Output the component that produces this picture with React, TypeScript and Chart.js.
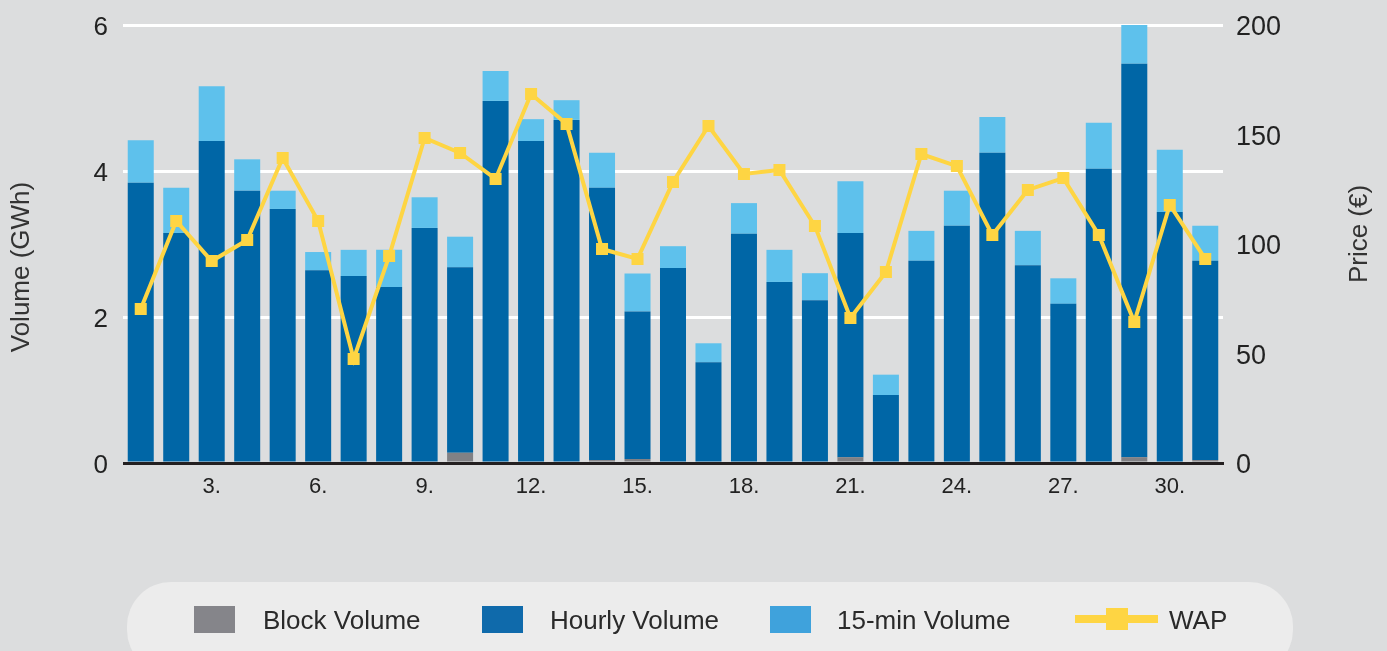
import { useEffect, useRef } from 'react';
import { Chart, registerables } from 'chart.js';

Chart.register(...registerables);

const FONT = '"Liberation Sans", Arial, Helvetica, sans-serif';

const dayLabels = ['1.', '2.', '3.', '4.', '5.', '6.', '7.', '8.', '9.', '10.', '11.', '12.', '13.', '14.', '15.', '16.', '17.', '18.', '19.', '20.', '21.', '22.', '23.', '24.', '25.', '26.', '27.', '28.', '29.', '30.', '31.'];

const blockVolume = [0, 0, 0, 0, 0, 0, 0, 0, 0, 0.14, 0, 0, 0, 0.04, 0.055, 0, 0, 0, 0, 0, 0.08, 0, 0, 0, 0, 0, 0, 0, 0.08, 0, 0.04];

const hourlyVolume = [3.84, 3.15, 4.41, 3.73, 3.48, 2.64, 2.56, 2.41, 3.22, 2.54, 4.96, 4.41, 4.70, 3.73, 2.02, 2.67, 1.38, 3.14, 2.48, 2.23, 3.07, 0.93, 2.77, 3.25, 4.25, 2.71, 2.18, 4.03, 5.39, 3.44, 2.73];

const quarterHourVolume = [0.58, 0.62, 0.75, 0.43, 0.25, 0.25, 0.36, 0.51, 0.42, 0.42, 0.41, 0.30, 0.27, 0.48, 0.52, 0.30, 0.26, 0.42, 0.44, 0.37, 0.71, 0.28, 0.41, 0.48, 0.49, 0.47, 0.35, 0.63, 0.54, 0.85, 0.48];

const wap = [70.3, 110.5, 92.2, 101.8, 139.3, 110.5, 47.5, 94.5, 148.4, 141.6, 129.7, 168.5, 154.8, 97.7, 93.2, 128.3, 153.9, 132.0, 133.8, 108.2, 66.2, 87.2, 141.1, 135.6, 104.1, 124.7, 130.1, 104.1, 64.4, 117.8, 93.2];

const seriesNames = ['Block Volume', 'Hourly Volume', '15-min Volume', 'WAP'];
const axisTitles = ['Volume (GWh)', 'Price (€)'];

const BG = '#dcddde';
const C_BLOCK = '#818185';
const C_HOURLY = '#0066a6';
const C_QUARTER = '#5ec1ec';
const C_WAP = '#fed543';

const bgPlugin = {
  id: 'bgFill',
  beforeDraw(chart: any) {
    const { ctx, width, height } = chart;
    ctx.save();
    ctx.fillStyle = BG;
    ctx.fillRect(0, 0, width, height);
    ctx.restore();
  },
};

const decorPlugin = {
  id: 'decor',
  afterDatasetsDraw(chart: any) {
    const { ctx, chartArea } = chart;
    const y0 = chart.scales.y.getPixelForValue(0);
    ctx.save();
    ctx.fillStyle = '#231f20';
    ctx.fillRect(chartArea.left, y0 - 1, chartArea.right - chartArea.left + 1, 3);
    ctx.restore();
  },
  afterDraw(chart: any) {
    const { ctx } = chart;
    ctx.save();
    ctx.fillStyle = '#333333';
    ctx.font = `26px ${FONT}`;
    ctx.textAlign = 'center';
    ctx.textBaseline = 'middle';
    ctx.save();
    ctx.translate(22, 267);
    ctx.rotate(-Math.PI / 2);
    ctx.fillText(axisTitles[0], 0, 0);
    ctx.restore();
    ctx.save();
    ctx.translate(1360, 234);
    ctx.rotate(-Math.PI / 2);
    ctx.fillText(axisTitles[1], 0, 0);
    ctx.restore();

    ctx.fillStyle = '#ececec';
    ctx.beginPath();
    (ctx as any).roundRect(127, 582, 1166, 92, 44);
    ctx.fill();

    const sw = [
      { x: 194, color: '#85858a', tx: 263 },
      { x: 482, color: '#0f6aab', tx: 550 },
      { x: 770, color: '#3fa2dc', tx: 837 },
    ];
    ctx.font = `26px ${FONT}`;
    ctx.textAlign = 'left';
    ctx.textBaseline = 'alphabetic';
    sw.forEach((s, i) => {
      ctx.fillStyle = s.color;
      ctx.fillRect(s.x, 606, 41, 27);
      ctx.fillStyle = '#2a2a2a';
      ctx.fillText(seriesNames[i], s.tx, 629);
    });
    ctx.fillStyle = C_WAP;
    ctx.fillRect(1075, 615, 83, 8);
    ctx.fillRect(1106, 608, 22, 22);
    ctx.fillStyle = '#2a2a2a';
    ctx.fillText(seriesNames[3], 1169, 629);
    ctx.restore();
  },
};

const zeroPad = (s: any) => {
  s.paddingTop = 0;
  s.paddingBottom = 0;
};

export default function App() {
  const ref = useRef<HTMLCanvasElement | null>(null);

  useEffect(() => {
    document.body.style.margin = '0';
    const chart = new Chart(ref.current as HTMLCanvasElement, {
      type: 'bar',
      data: {
        labels: dayLabels,
        datasets: [
          {
            type: 'line',
            label: seriesNames[3],
            data: wap,
            yAxisID: 'y1',
            borderColor: C_WAP,
            backgroundColor: C_WAP,
            borderWidth: 4,
            pointStyle: 'rect',
            pointRadius: 8.5,
            pointBorderWidth: 0,
            pointBackgroundColor: C_WAP,
            tension: 0,
            order: 0,
          } as any,
          {
            label: seriesNames[0],
            data: blockVolume,
            backgroundColor: C_BLOCK,
            yAxisID: 'y',
            stack: 'vol',
            order: 1,
          },
          {
            label: seriesNames[1],
            data: hourlyVolume,
            backgroundColor: C_HOURLY,
            yAxisID: 'y',
            stack: 'vol',
            order: 1,
          },
          {
            label: seriesNames[2],
            data: quarterHourVolume,
            backgroundColor: C_QUARTER,
            yAxisID: 'y',
            stack: 'vol',
            order: 1,
          },
        ],
      },
      options: {
        responsive: false,
        animation: false,
        events: [],
        datasets: {
          bar: { categoryPercentage: 1, barPercentage: 0.733, borderWidth: 0 },
        },
        layout: { padding: { top: 25, left: 0, right: 0, bottom: 0 } },
        plugins: {
          legend: { display: false },
          tooltip: { enabled: false },
          title: { display: false },
        },
        scales: {
          x: {
            stacked: true,
            grid: { display: false, drawTicks: false },
            border: { display: false },
            ticks: {
              autoSkip: false,
              maxRotation: 0,
              minRotation: 0,
              padding: 11,
              color: '#222222',
              font: { family: FONT, size: 22 },
              callback: (_v: any, i: number) => (i % 3 === 2 ? dayLabels[i] : ''),
            },
            afterFit: (s: any) => {
              s.height = 188;
              s.paddingLeft = 0;
              s.paddingRight = 0;
            },
          },
          y: {
            stacked: true,
            position: 'left',
            min: 0,
            max: 6,
            ticks: { stepSize: 2, padding: 15, labelOffset: 3, color: '#222222', font: { family: FONT, size: 26 } },
            grid: {
              color: (c: any) => (c.tick && c.tick.value === 0 ? 'rgba(0,0,0,0)' : '#ffffff'),
              lineWidth: 3,
              drawTicks: false,
            },
            border: { display: false },
            afterFit: (s: any) => {
              s.width = 123;
              zeroPad(s);
            },
          },
          y1: {
            position: 'right',
            min: 0,
            max: 200,
            ticks: { stepSize: 50, padding: 13, labelOffset: 3, color: '#222222', font: { family: FONT, size: 27 } },
            grid: { display: false, drawTicks: false },
            border: { display: false },
            afterFit: (s: any) => {
              s.width = 164;
              zeroPad(s);
            },
          },
        },
      } as any,
      plugins: [bgPlugin, decorPlugin],
    });
    return () => chart.destroy();
  }, []);

  return (
    <div style={{ width: 1387, height: 651, background: BG }}>
      <canvas ref={ref} width={1387} height={651} style={{ display: 'block' }} />
    </div>
  );
}
